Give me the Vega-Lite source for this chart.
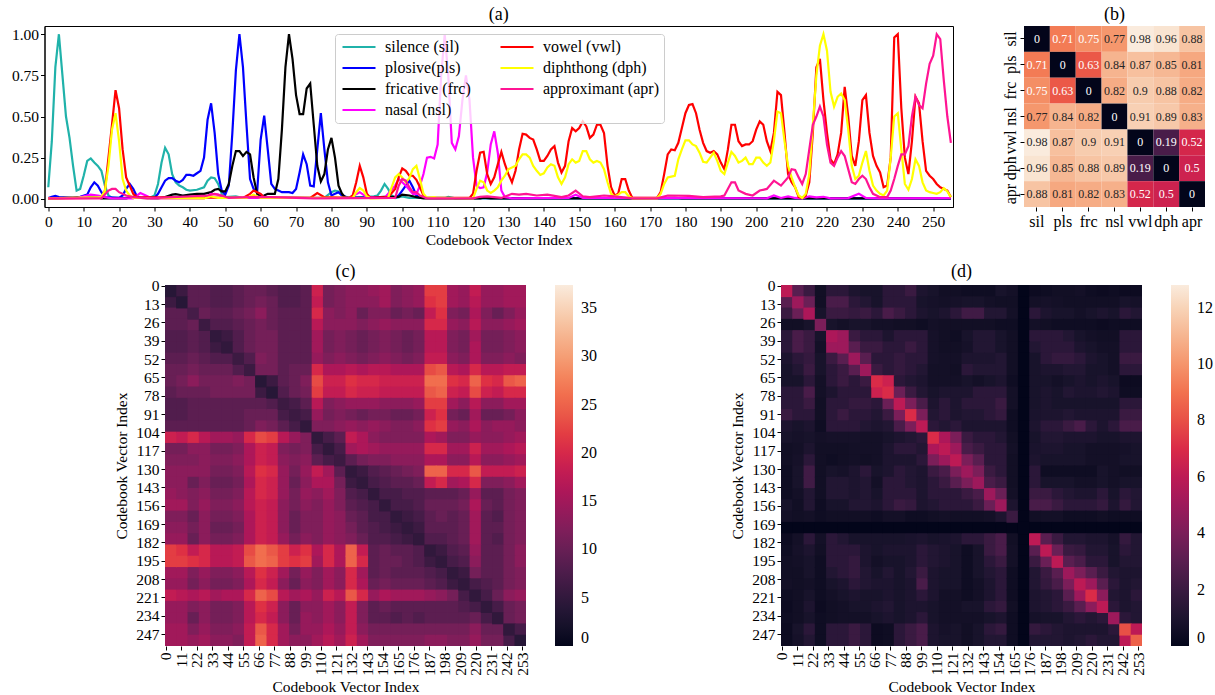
{"background":"white","padding":{"left":10.5,"top":5,"right":0,"bottom":0},"config":{"font":"Liberation Serif","view":{"stroke":"#000"},"title":{"fontSize":18,"fontWeight":"normal","color":"#000","offset":2,"font":"Liberation Serif"},"axis":{"labelFont":"Liberation Serif","titleFont":"Liberation Serif","labelFontSize":15.5,"titleFontSize":15.5,"titleFontWeight":"normal","labelColor":"#000","titleColor":"#000","tickColor":"#000","domainColor":"#000","grid":false,"tickSize":4},"legend":{"labelFont":"Liberation Serif","labelFontSize":16,"labelColor":"#000"}},"spacing":13,"vconcat":[{"spacing":47.5,"hconcat":[{"title":"(a)","width":908.5,"height":181,"data":{"values":[
{"x":0,"s":"sil","v":0.07},{"x":1,"s":"sil","v":0.35},{"x":2,"s":"sil","v":0.8},{"x":3,"s":"sil","v":1},{"x":4,"s":"sil","v":0.75},{"x":5,"s":"sil","v":0.5},{"x":6,"s":"sil","v":0.37},{"x":7,"s":"sil","v":0.2},{"x":8,"s":"sil","v":0.05},{"x":9,"s":"sil","v":0.06},{"x":10,"s":"sil","v":0.14},{"x":11,"s":"sil","v":0.23},{"x":12,"s":"sil","v":0.245},{"x":13,"s":"sil","v":0.22},{"x":14,"s":"sil","v":0.2},{"x":15,"s":"sil","v":0.17},{"x":16,"s":"sil","v":0.08},{"x":17,"s":"sil","v":0.02},{"x":18,"s":"sil","v":0.005},{"x":28,"s":"sil","v":0.005},{"x":29,"s":"sil","v":0.01},{"x":30,"s":"sil","v":0.02},{"x":31,"s":"sil","v":0.09},{"x":32,"s":"sil","v":0.22},{"x":33,"s":"sil","v":0.31},{"x":34,"s":"sil","v":0.27},{"x":35,"s":"sil","v":0.15},{"x":36,"s":"sil","v":0.1},{"x":37,"s":"sil","v":0.08},{"x":38,"s":"sil","v":0.07},{"x":39,"s":"sil","v":0.055},{"x":40,"s":"sil","v":0.05},{"x":42,"s":"sil","v":0.055},{"x":44,"s":"sil","v":0.07},{"x":45,"s":"sil","v":0.11},{"x":46,"s":"sil","v":0.13},{"x":47,"s":"sil","v":0.125},{"x":48,"s":"sil","v":0.09},{"x":49,"s":"sil","v":0.03},{"x":50,"s":"sil","v":0.01},{"x":53,"s":"sil","v":0.015},{"x":55,"s":"sil","v":0.005},{"x":62,"s":"sil","v":0.01},{"x":63,"s":"sil","v":0.005},{"x":78,"s":"sil","v":0.005},{"x":80,"s":"sil","v":0.04},{"x":81,"s":"sil","v":0.05},{"x":82,"s":"sil","v":0.045},{"x":83,"s":"sil","v":0.02},{"x":85,"s":"sil","v":0.005},{"x":92,"s":"sil","v":0.015},{"x":93,"s":"sil","v":0.02},{"x":94,"s":"sil","v":0.05},{"x":95,"s":"sil","v":0.09},{"x":96,"s":"sil","v":0.06},{"x":97,"s":"sil","v":0.02},{"x":98,"s":"sil","v":0.005},{"x":100,"s":"sil","v":0.015},{"x":102,"s":"sil","v":0.005},{"x":112,"s":"sil","v":0.005},{"x":113,"s":"sil","v":0.012},{"x":115,"s":"sil","v":0.003},{"x":255,"s":"sil","v":0.003},
{"x":0,"s":"pls","v":0.005},{"x":1,"s":"pls","v":0.012},{"x":2,"s":"pls","v":0.018},{"x":3,"s":"pls","v":0.01},{"x":7,"s":"pls","v":0.005},{"x":9,"s":"pls","v":0.012},{"x":11,"s":"pls","v":0.025},{"x":12,"s":"pls","v":0.07},{"x":13,"s":"pls","v":0.1},{"x":14,"s":"pls","v":0.08},{"x":15,"s":"pls","v":0.04},{"x":16,"s":"pls","v":0.01},{"x":20,"s":"pls","v":0.005},{"x":21,"s":"pls","v":0.02},{"x":22,"s":"pls","v":0.06},{"x":23,"s":"pls","v":0.09},{"x":24,"s":"pls","v":0.06},{"x":25,"s":"pls","v":0.015},{"x":26,"s":"pls","v":0.005},{"x":30,"s":"pls","v":0.005},{"x":31,"s":"pls","v":0.03},{"x":32,"s":"pls","v":0.07},{"x":33,"s":"pls","v":0.11},{"x":34,"s":"pls","v":0.125},{"x":35,"s":"pls","v":0.125},{"x":36,"s":"pls","v":0.11},{"x":37,"s":"pls","v":0.1},{"x":38,"s":"pls","v":0.115},{"x":39,"s":"pls","v":0.145},{"x":40,"s":"pls","v":0.145},{"x":41,"s":"pls","v":0.14},{"x":42,"s":"pls","v":0.155},{"x":43,"s":"pls","v":0.17},{"x":44,"s":"pls","v":0.25},{"x":45,"s":"pls","v":0.48},{"x":46,"s":"pls","v":0.58},{"x":47,"s":"pls","v":0.4},{"x":48,"s":"pls","v":0.15},{"x":49,"s":"pls","v":0.05},{"x":50,"s":"pls","v":0.025},{"x":51,"s":"pls","v":0.08},{"x":52,"s":"pls","v":0.4},{"x":53,"s":"pls","v":0.78},{"x":54,"s":"pls","v":1},{"x":55,"s":"pls","v":0.8},{"x":56,"s":"pls","v":0.45},{"x":57,"s":"pls","v":0.12},{"x":58,"s":"pls","v":0.06},{"x":59,"s":"pls","v":0.04},{"x":60,"s":"pls","v":0.36},{"x":61,"s":"pls","v":0.505},{"x":62,"s":"pls","v":0.3},{"x":63,"s":"pls","v":0.09},{"x":64,"s":"pls","v":0.06},{"x":65,"s":"pls","v":0.05},{"x":66,"s":"pls","v":0.04},{"x":68,"s":"pls","v":0.04},{"x":69,"s":"pls","v":0.035},{"x":70,"s":"pls","v":0.06},{"x":71,"s":"pls","v":0.16},{"x":72,"s":"pls","v":0.27},{"x":73,"s":"pls","v":0.21},{"x":74,"s":"pls","v":0.08},{"x":75,"s":"pls","v":0.075},{"x":76,"s":"pls","v":0.3},{"x":77,"s":"pls","v":0.52},{"x":78,"s":"pls","v":0.3},{"x":79,"s":"pls","v":0.1},{"x":80,"s":"pls","v":0.02},{"x":81,"s":"pls","v":0.03},{"x":82,"s":"pls","v":0.04},{"x":83,"s":"pls","v":0.02},{"x":85,"s":"pls","v":0.005},{"x":98,"s":"pls","v":0.005},{"x":99,"s":"pls","v":0.02},{"x":100,"s":"pls","v":0.05},{"x":101,"s":"pls","v":0.08},{"x":102,"s":"pls","v":0.11},{"x":103,"s":"pls","v":0.07},{"x":104,"s":"pls","v":0.02},{"x":105,"s":"pls","v":0.005},{"x":255,"s":"pls","v":0.002},
{"x":0,"s":"frc","v":0.002},{"x":10,"s":"frc","v":0.008},{"x":14,"s":"frc","v":0.008},{"x":15,"s":"frc","v":0.002},{"x":22,"s":"frc","v":0.002},{"x":24,"s":"frc","v":0.012},{"x":26,"s":"frc","v":0.005},{"x":31,"s":"frc","v":0.003},{"x":33,"s":"frc","v":0.01},{"x":35,"s":"frc","v":0.025},{"x":36,"s":"frc","v":0.028},{"x":38,"s":"frc","v":0.02},{"x":40,"s":"frc","v":0.025},{"x":42,"s":"frc","v":0.03},{"x":44,"s":"frc","v":0.03},{"x":46,"s":"frc","v":0.04},{"x":47,"s":"frc","v":0.055},{"x":48,"s":"frc","v":0.06},{"x":49,"s":"frc","v":0.045},{"x":50,"s":"frc","v":0.045},{"x":51,"s":"frc","v":0.09},{"x":52,"s":"frc","v":0.2},{"x":53,"s":"frc","v":0.29},{"x":54,"s":"frc","v":0.29},{"x":55,"s":"frc","v":0.26},{"x":56,"s":"frc","v":0.285},{"x":57,"s":"frc","v":0.27},{"x":58,"s":"frc","v":0.13},{"x":59,"s":"frc","v":0.03},{"x":60,"s":"frc","v":0.015},{"x":61,"s":"frc","v":0.02},{"x":62,"s":"frc","v":0.03},{"x":64,"s":"frc","v":0.03},{"x":65,"s":"frc","v":0.12},{"x":66,"s":"frc","v":0.42},{"x":67,"s":"frc","v":0.8},{"x":68,"s":"frc","v":1},{"x":69,"s":"frc","v":0.85},{"x":70,"s":"frc","v":0.63},{"x":71,"s":"frc","v":0.515},{"x":72,"s":"frc","v":0.515},{"x":73,"s":"frc","v":0.67},{"x":74,"s":"frc","v":0.7},{"x":75,"s":"frc","v":0.45},{"x":76,"s":"frc","v":0.2},{"x":77,"s":"frc","v":0.105},{"x":78,"s":"frc","v":0.15},{"x":79,"s":"frc","v":0.3},{"x":80,"s":"frc","v":0.37},{"x":81,"s":"frc","v":0.25},{"x":82,"s":"frc","v":0.08},{"x":83,"s":"frc","v":0.03},{"x":84,"s":"frc","v":0.005},{"x":90,"s":"frc","v":0.005},{"x":95,"s":"frc","v":0.012},{"x":99,"s":"frc","v":0.012},{"x":100,"s":"frc","v":0.025},{"x":102,"s":"frc","v":0.02},{"x":104,"s":"frc","v":0.01},{"x":106,"s":"frc","v":0.002},{"x":110,"s":"frc","v":0.004},{"x":122,"s":"frc","v":0.002},{"x":123,"s":"frc","v":0.007},{"x":125,"s":"frc","v":0.002},{"x":150,"s":"frc","v":0.003},{"x":165,"s":"frc","v":0.002},{"x":177,"s":"frc","v":0.006},{"x":179,"s":"frc","v":0.002},{"x":255,"s":"frc","v":0.002},
{"x":0,"s":"nsl","v":0.002},{"x":8,"s":"nsl","v":0.005},{"x":10,"s":"nsl","v":0.015},{"x":12,"s":"nsl","v":0.025},{"x":14,"s":"nsl","v":0.02},{"x":16,"s":"nsl","v":0.01},{"x":18,"s":"nsl","v":0.003},{"x":24,"s":"nsl","v":0.003},{"x":26,"s":"nsl","v":0.035},{"x":28,"s":"nsl","v":0.015},{"x":29,"s":"nsl","v":0.003},{"x":44,"s":"nsl","v":0.003},{"x":46,"s":"nsl","v":0.03},{"x":48,"s":"nsl","v":0.025},{"x":50,"s":"nsl","v":0.005},{"x":85,"s":"nsl","v":0.005},{"x":88,"s":"nsl","v":0.04},{"x":90,"s":"nsl","v":0.01},{"x":95,"s":"nsl","v":0.005},{"x":98,"s":"nsl","v":0.08},{"x":99,"s":"nsl","v":0.12},{"x":100,"s":"nsl","v":0.1},{"x":101,"s":"nsl","v":0.08},{"x":103,"s":"nsl","v":0.03},{"x":104,"s":"nsl","v":0.03},{"x":105,"s":"nsl","v":0.08},{"x":106,"s":"nsl","v":0.15},{"x":107,"s":"nsl","v":0.25},{"x":108,"s":"nsl","v":0.255},{"x":109,"s":"nsl","v":0.245},{"x":110,"s":"nsl","v":0.33},{"x":111,"s":"nsl","v":0.75},{"x":112,"s":"nsl","v":1},{"x":113,"s":"nsl","v":0.75},{"x":114,"s":"nsl","v":0.34},{"x":115,"s":"nsl","v":0.3},{"x":116,"s":"nsl","v":0.38},{"x":117,"s":"nsl","v":0.6},{"x":118,"s":"nsl","v":0.75},{"x":119,"s":"nsl","v":0.6},{"x":120,"s":"nsl","v":0.25},{"x":121,"s":"nsl","v":0.08},{"x":122,"s":"nsl","v":0.065},{"x":123,"s":"nsl","v":0.07},{"x":124,"s":"nsl","v":0.16},{"x":125,"s":"nsl","v":0.33},{"x":126,"s":"nsl","v":0.41},{"x":127,"s":"nsl","v":0.28},{"x":128,"s":"nsl","v":0.05},{"x":129,"s":"nsl","v":0.01},{"x":131,"s":"nsl","v":0.003},{"x":147,"s":"nsl","v":0.005},{"x":149,"s":"nsl","v":0.025},{"x":151,"s":"nsl","v":0.005},{"x":160,"s":"nsl","v":0.005},{"x":203,"s":"nsl","v":0.003},{"x":205,"s":"nsl","v":0.02},{"x":207,"s":"nsl","v":0.005},{"x":209,"s":"nsl","v":0.015},{"x":211,"s":"nsl","v":0.005},{"x":213,"s":"nsl","v":0.002},{"x":215,"s":"nsl","v":0.015},{"x":217,"s":"nsl","v":0.008},{"x":219,"s":"nsl","v":0.012},{"x":221,"s":"nsl","v":0.003},{"x":226,"s":"nsl","v":0.004},{"x":229,"s":"nsl","v":0.03},{"x":231,"s":"nsl","v":0.005},{"x":235,"s":"nsl","v":0.002},{"x":255,"s":"nsl","v":0.004},
{"x":0,"s":"vwl","v":0.002},{"x":15,"s":"vwl","v":0.005},{"x":16,"s":"vwl","v":0.05},{"x":17,"s":"vwl","v":0.25},{"x":18,"s":"vwl","v":0.45},{"x":19,"s":"vwl","v":0.66},{"x":20,"s":"vwl","v":0.55},{"x":21,"s":"vwl","v":0.3},{"x":22,"s":"vwl","v":0.13},{"x":23,"s":"vwl","v":0.08},{"x":24,"s":"vwl","v":0.03},{"x":25,"s":"vwl","v":0.01},{"x":55,"s":"vwl","v":0.005},{"x":57,"s":"vwl","v":0.03},{"x":58,"s":"vwl","v":0.05},{"x":60,"s":"vwl","v":0.03},{"x":61,"s":"vwl","v":0.008},{"x":74,"s":"vwl","v":0.005},{"x":76,"s":"vwl","v":0.035},{"x":78,"s":"vwl","v":0.01},{"x":85,"s":"vwl","v":0.005},{"x":86,"s":"vwl","v":0.02},{"x":87,"s":"vwl","v":0.1},{"x":88,"s":"vwl","v":0.2},{"x":89,"s":"vwl","v":0.13},{"x":90,"s":"vwl","v":0.03},{"x":91,"s":"vwl","v":0.005},{"x":96,"s":"vwl","v":0.01},{"x":98,"s":"vwl","v":0.06},{"x":99,"s":"vwl","v":0.13},{"x":100,"s":"vwl","v":0.185},{"x":101,"s":"vwl","v":0.17},{"x":102,"s":"vwl","v":0.14},{"x":103,"s":"vwl","v":0.14},{"x":104,"s":"vwl","v":0.115},{"x":105,"s":"vwl","v":0.07},{"x":106,"s":"vwl","v":0.02},{"x":107,"s":"vwl","v":0.005},{"x":119,"s":"vwl","v":0.005},{"x":120,"s":"vwl","v":0.03},{"x":121,"s":"vwl","v":0.17},{"x":122,"s":"vwl","v":0.28},{"x":123,"s":"vwl","v":0.285},{"x":124,"s":"vwl","v":0.15},{"x":125,"s":"vwl","v":0.09},{"x":126,"s":"vwl","v":0.13},{"x":127,"s":"vwl","v":0.21},{"x":128,"s":"vwl","v":0.285},{"x":129,"s":"vwl","v":0.21},{"x":130,"s":"vwl","v":0.15},{"x":131,"s":"vwl","v":0.1},{"x":132,"s":"vwl","v":0.17},{"x":133,"s":"vwl","v":0.3},{"x":134,"s":"vwl","v":0.395},{"x":135,"s":"vwl","v":0.39},{"x":136,"s":"vwl","v":0.37},{"x":137,"s":"vwl","v":0.36},{"x":138,"s":"vwl","v":0.3},{"x":139,"s":"vwl","v":0.23},{"x":140,"s":"vwl","v":0.23},{"x":141,"s":"vwl","v":0.26},{"x":142,"s":"vwl","v":0.3},{"x":143,"s":"vwl","v":0.32},{"x":144,"s":"vwl","v":0.22},{"x":145,"s":"vwl","v":0.16},{"x":146,"s":"vwl","v":0.2},{"x":147,"s":"vwl","v":0.35},{"x":148,"s":"vwl","v":0.43},{"x":149,"s":"vwl","v":0.41},{"x":150,"s":"vwl","v":0.43},{"x":151,"s":"vwl","v":0.47},{"x":152,"s":"vwl","v":0.44},{"x":153,"s":"vwl","v":0.37},{"x":154,"s":"vwl","v":0.39},{"x":155,"s":"vwl","v":0.45},{"x":156,"s":"vwl","v":0.45},{"x":157,"s":"vwl","v":0.4},{"x":158,"s":"vwl","v":0.2},{"x":159,"s":"vwl","v":0.07},{"x":160,"s":"vwl","v":0.02},{"x":161,"s":"vwl","v":0.03},{"x":162,"s":"vwl","v":0.12},{"x":163,"s":"vwl","v":0.12},{"x":164,"s":"vwl","v":0.05},{"x":165,"s":"vwl","v":0.005},{"x":172,"s":"vwl","v":0.005},{"x":173,"s":"vwl","v":0.04},{"x":174,"s":"vwl","v":0.15},{"x":175,"s":"vwl","v":0.27},{"x":176,"s":"vwl","v":0.3},{"x":177,"s":"vwl","v":0.295},{"x":178,"s":"vwl","v":0.34},{"x":179,"s":"vwl","v":0.43},{"x":180,"s":"vwl","v":0.52},{"x":181,"s":"vwl","v":0.57},{"x":182,"s":"vwl","v":0.575},{"x":183,"s":"vwl","v":0.52},{"x":184,"s":"vwl","v":0.42},{"x":185,"s":"vwl","v":0.34},{"x":186,"s":"vwl","v":0.29},{"x":187,"s":"vwl","v":0.28},{"x":188,"s":"vwl","v":0.29},{"x":189,"s":"vwl","v":0.27},{"x":190,"s":"vwl","v":0.22},{"x":191,"s":"vwl","v":0.18},{"x":192,"s":"vwl","v":0.3},{"x":193,"s":"vwl","v":0.45},{"x":194,"s":"vwl","v":0.45},{"x":195,"s":"vwl","v":0.35},{"x":196,"s":"vwl","v":0.32},{"x":197,"s":"vwl","v":0.33},{"x":198,"s":"vwl","v":0.33},{"x":199,"s":"vwl","v":0.35},{"x":200,"s":"vwl","v":0.42},{"x":201,"s":"vwl","v":0.47},{"x":202,"s":"vwl","v":0.45},{"x":203,"s":"vwl","v":0.35},{"x":204,"s":"vwl","v":0.29},{"x":205,"s":"vwl","v":0.4},{"x":206,"s":"vwl","v":0.65},{"x":207,"s":"vwl","v":0.63},{"x":208,"s":"vwl","v":0.4},{"x":209,"s":"vwl","v":0.15},{"x":210,"s":"vwl","v":0.1},{"x":211,"s":"vwl","v":0.07},{"x":212,"s":"vwl","v":0.01},{"x":213,"s":"vwl","v":0.005},{"x":214,"s":"vwl","v":0.02},{"x":215,"s":"vwl","v":0.1},{"x":216,"s":"vwl","v":0.4},{"x":217,"s":"vwl","v":0.8},{"x":218,"s":"vwl","v":0.85},{"x":219,"s":"vwl","v":0.6},{"x":220,"s":"vwl","v":0.4},{"x":221,"s":"vwl","v":0.24},{"x":222,"s":"vwl","v":0.21},{"x":223,"s":"vwl","v":0.27},{"x":224,"s":"vwl","v":0.4},{"x":225,"s":"vwl","v":0.68},{"x":226,"s":"vwl","v":0.5},{"x":227,"s":"vwl","v":0.26},{"x":228,"s":"vwl","v":0.2},{"x":229,"s":"vwl","v":0.35},{"x":230,"s":"vwl","v":0.6},{"x":231,"s":"vwl","v":0.63},{"x":232,"s":"vwl","v":0.4},{"x":233,"s":"vwl","v":0.26},{"x":234,"s":"vwl","v":0.2},{"x":235,"s":"vwl","v":0.16},{"x":236,"s":"vwl","v":0.07},{"x":237,"s":"vwl","v":0.08},{"x":238,"s":"vwl","v":0.25},{"x":239,"s":"vwl","v":0.98},{"x":240,"s":"vwl","v":1},{"x":241,"s":"vwl","v":0.55},{"x":242,"s":"vwl","v":0.25},{"x":243,"s":"vwl","v":0.15},{"x":244,"s":"vwl","v":0.35},{"x":245,"s":"vwl","v":0.62},{"x":246,"s":"vwl","v":0.58},{"x":247,"s":"vwl","v":0.35},{"x":248,"s":"vwl","v":0.17},{"x":249,"s":"vwl","v":0.14},{"x":250,"s":"vwl","v":0.12},{"x":251,"s":"vwl","v":0.09},{"x":252,"s":"vwl","v":0.07},{"x":253,"s":"vwl","v":0.06},{"x":254,"s":"vwl","v":0.05},{"x":255,"s":"vwl","v":0.01},
{"x":0,"s":"dph","v":0.002},{"x":15,"s":"dph","v":0.01},{"x":16,"s":"dph","v":0.05},{"x":17,"s":"dph","v":0.2},{"x":18,"s":"dph","v":0.42},{"x":19,"s":"dph","v":0.52},{"x":20,"s":"dph","v":0.35},{"x":21,"s":"dph","v":0.12},{"x":22,"s":"dph","v":0.05},{"x":23,"s":"dph","v":0.02},{"x":24,"s":"dph","v":0.005},{"x":44,"s":"dph","v":0.002},{"x":46,"s":"dph","v":0.015},{"x":48,"s":"dph","v":0.005},{"x":56,"s":"dph","v":0.005},{"x":58,"s":"dph","v":0.025},{"x":60,"s":"dph","v":0.005},{"x":86,"s":"dph","v":0.005},{"x":87,"s":"dph","v":0.04},{"x":88,"s":"dph","v":0.065},{"x":89,"s":"dph","v":0.05},{"x":90,"s":"dph","v":0.015},{"x":91,"s":"dph","v":0.003},{"x":96,"s":"dph","v":0.005},{"x":97,"s":"dph","v":0.07},{"x":98,"s":"dph","v":0.13},{"x":99,"s":"dph","v":0.15},{"x":100,"s":"dph","v":0.13},{"x":101,"s":"dph","v":0.1},{"x":102,"s":"dph","v":0.125},{"x":103,"s":"dph","v":0.18},{"x":104,"s":"dph","v":0.2},{"x":105,"s":"dph","v":0.12},{"x":106,"s":"dph","v":0.03},{"x":107,"s":"dph","v":0.005},{"x":109,"s":"dph","v":0.01},{"x":110,"s":"dph","v":0.005},{"x":120,"s":"dph","v":0.003},{"x":121,"s":"dph","v":0.06},{"x":122,"s":"dph","v":0.11},{"x":123,"s":"dph","v":0.1},{"x":124,"s":"dph","v":0.05},{"x":125,"s":"dph","v":0.035},{"x":126,"s":"dph","v":0.05},{"x":127,"s":"dph","v":0.07},{"x":128,"s":"dph","v":0.11},{"x":129,"s":"dph","v":0.14},{"x":130,"s":"dph","v":0.18},{"x":131,"s":"dph","v":0.19},{"x":132,"s":"dph","v":0.2},{"x":133,"s":"dph","v":0.24},{"x":134,"s":"dph","v":0.27},{"x":135,"s":"dph","v":0.27},{"x":136,"s":"dph","v":0.25},{"x":137,"s":"dph","v":0.2},{"x":138,"s":"dph","v":0.17},{"x":139,"s":"dph","v":0.145},{"x":140,"s":"dph","v":0.155},{"x":141,"s":"dph","v":0.19},{"x":142,"s":"dph","v":0.21},{"x":143,"s":"dph","v":0.2},{"x":144,"s":"dph","v":0.13},{"x":145,"s":"dph","v":0.09},{"x":146,"s":"dph","v":0.13},{"x":147,"s":"dph","v":0.21},{"x":148,"s":"dph","v":0.24},{"x":149,"s":"dph","v":0.22},{"x":150,"s":"dph","v":0.23},{"x":151,"s":"dph","v":0.29},{"x":152,"s":"dph","v":0.29},{"x":153,"s":"dph","v":0.24},{"x":154,"s":"dph","v":0.22},{"x":155,"s":"dph","v":0.23},{"x":156,"s":"dph","v":0.22},{"x":157,"s":"dph","v":0.18},{"x":158,"s":"dph","v":0.1},{"x":159,"s":"dph","v":0.03},{"x":160,"s":"dph","v":0.015},{"x":161,"s":"dph","v":0.025},{"x":162,"s":"dph","v":0.04},{"x":163,"s":"dph","v":0.04},{"x":164,"s":"dph","v":0.015},{"x":165,"s":"dph","v":0.003},{"x":172,"s":"dph","v":0.003},{"x":173,"s":"dph","v":0.03},{"x":174,"s":"dph","v":0.09},{"x":175,"s":"dph","v":0.13},{"x":176,"s":"dph","v":0.135},{"x":177,"s":"dph","v":0.14},{"x":178,"s":"dph","v":0.24},{"x":179,"s":"dph","v":0.3},{"x":180,"s":"dph","v":0.355},{"x":181,"s":"dph","v":0.355},{"x":182,"s":"dph","v":0.33},{"x":183,"s":"dph","v":0.32},{"x":184,"s":"dph","v":0.28},{"x":185,"s":"dph","v":0.225},{"x":186,"s":"dph","v":0.22},{"x":187,"s":"dph","v":0.25},{"x":188,"s":"dph","v":0.28},{"x":189,"s":"dph","v":0.23},{"x":190,"s":"dph","v":0.17},{"x":191,"s":"dph","v":0.15},{"x":192,"s":"dph","v":0.22},{"x":193,"s":"dph","v":0.285},{"x":194,"s":"dph","v":0.26},{"x":195,"s":"dph","v":0.22},{"x":196,"s":"dph","v":0.23},{"x":197,"s":"dph","v":0.25},{"x":198,"s":"dph","v":0.21},{"x":199,"s":"dph","v":0.21},{"x":200,"s":"dph","v":0.25},{"x":201,"s":"dph","v":0.25},{"x":202,"s":"dph","v":0.22},{"x":203,"s":"dph","v":0.2},{"x":204,"s":"dph","v":0.22},{"x":205,"s":"dph","v":0.35},{"x":206,"s":"dph","v":0.53},{"x":207,"s":"dph","v":0.52},{"x":208,"s":"dph","v":0.35},{"x":209,"s":"dph","v":0.2},{"x":210,"s":"dph","v":0.13},{"x":211,"s":"dph","v":0.07},{"x":212,"s":"dph","v":0.02},{"x":213,"s":"dph","v":0.005},{"x":214,"s":"dph","v":0.03},{"x":215,"s":"dph","v":0.15},{"x":216,"s":"dph","v":0.45},{"x":217,"s":"dph","v":0.75},{"x":218,"s":"dph","v":0.93},{"x":219,"s":"dph","v":1},{"x":220,"s":"dph","v":0.9},{"x":221,"s":"dph","v":0.65},{"x":222,"s":"dph","v":0.56},{"x":223,"s":"dph","v":0.62},{"x":224,"s":"dph","v":0.64},{"x":225,"s":"dph","v":0.6},{"x":226,"s":"dph","v":0.42},{"x":227,"s":"dph","v":0.2},{"x":228,"s":"dph","v":0.12},{"x":229,"s":"dph","v":0.14},{"x":230,"s":"dph","v":0.22},{"x":231,"s":"dph","v":0.29},{"x":232,"s":"dph","v":0.17},{"x":233,"s":"dph","v":0.08},{"x":234,"s":"dph","v":0.05},{"x":235,"s":"dph","v":0.03},{"x":236,"s":"dph","v":0.02},{"x":237,"s":"dph","v":0.05},{"x":238,"s":"dph","v":0.25},{"x":239,"s":"dph","v":0.5},{"x":240,"s":"dph","v":0.52},{"x":241,"s":"dph","v":0.3},{"x":242,"s":"dph","v":0.09},{"x":243,"s":"dph","v":0.055},{"x":244,"s":"dph","v":0.12},{"x":245,"s":"dph","v":0.24},{"x":246,"s":"dph","v":0.2},{"x":247,"s":"dph","v":0.1},{"x":248,"s":"dph","v":0.05},{"x":249,"s":"dph","v":0.04},{"x":250,"s":"dph","v":0.035},{"x":251,"s":"dph","v":0.03},{"x":252,"s":"dph","v":0.04},{"x":253,"s":"dph","v":0.065},{"x":254,"s":"dph","v":0.045},{"x":255,"s":"dph","v":0.01},
{"x":0,"s":"apr","v":0.002},{"x":15,"s":"apr","v":0.003},{"x":17,"s":"apr","v":0.05},{"x":18,"s":"apr","v":0.06},{"x":19,"s":"apr","v":0.06},{"x":20,"s":"apr","v":0.04},{"x":22,"s":"apr","v":0.02},{"x":24,"s":"apr","v":0.01},{"x":28,"s":"apr","v":0.003},{"x":45,"s":"apr","v":0.02},{"x":47,"s":"apr","v":0.03},{"x":49,"s":"apr","v":0.02},{"x":51,"s":"apr","v":0.005},{"x":60,"s":"apr","v":0.012},{"x":75,"s":"apr","v":0.003},{"x":98,"s":"apr","v":0.005},{"x":99,"s":"apr","v":0.08},{"x":100,"s":"apr","v":0.12},{"x":101,"s":"apr","v":0.11},{"x":102,"s":"apr","v":0.07},{"x":103,"s":"apr","v":0.04},{"x":104,"s":"apr","v":0.04},{"x":105,"s":"apr","v":0.02},{"x":107,"s":"apr","v":0.003},{"x":120,"s":"apr","v":0.003},{"x":122,"s":"apr","v":0.012},{"x":124,"s":"apr","v":0.015},{"x":128,"s":"apr","v":0.005},{"x":131,"s":"apr","v":0.03},{"x":133,"s":"apr","v":0.025},{"x":135,"s":"apr","v":0.03},{"x":138,"s":"apr","v":0.02},{"x":141,"s":"apr","v":0.025},{"x":145,"s":"apr","v":0.01},{"x":147,"s":"apr","v":0.02},{"x":149,"s":"apr","v":0.05},{"x":151,"s":"apr","v":0.015},{"x":153,"s":"apr","v":0.01},{"x":157,"s":"apr","v":0.02},{"x":160,"s":"apr","v":0.015},{"x":165,"s":"apr","v":0.003},{"x":172,"s":"apr","v":0.003},{"x":175,"s":"apr","v":0.02},{"x":181,"s":"apr","v":0.018},{"x":185,"s":"apr","v":0.01},{"x":190,"s":"apr","v":0.015},{"x":191,"s":"apr","v":0.02},{"x":193,"s":"apr","v":0.1},{"x":194,"s":"apr","v":0.1},{"x":195,"s":"apr","v":0.05},{"x":197,"s":"apr","v":0.03},{"x":199,"s":"apr","v":0.02},{"x":201,"s":"apr","v":0.05},{"x":203,"s":"apr","v":0.06},{"x":205,"s":"apr","v":0.11},{"x":207,"s":"apr","v":0.08},{"x":209,"s":"apr","v":0.13},{"x":210,"s":"apr","v":0.18},{"x":211,"s":"apr","v":0.175},{"x":212,"s":"apr","v":0.13},{"x":213,"s":"apr","v":0.09},{"x":214,"s":"apr","v":0.15},{"x":215,"s":"apr","v":0.3},{"x":216,"s":"apr","v":0.45},{"x":217,"s":"apr","v":0.5},{"x":218,"s":"apr","v":0.56},{"x":219,"s":"apr","v":0.5},{"x":220,"s":"apr","v":0.33},{"x":221,"s":"apr","v":0.22},{"x":222,"s":"apr","v":0.2},{"x":223,"s":"apr","v":0.25},{"x":224,"s":"apr","v":0.29},{"x":225,"s":"apr","v":0.26},{"x":226,"s":"apr","v":0.18},{"x":227,"s":"apr","v":0.1},{"x":228,"s":"apr","v":0.09},{"x":229,"s":"apr","v":0.12},{"x":230,"s":"apr","v":0.14},{"x":231,"s":"apr","v":0.12},{"x":232,"s":"apr","v":0.07},{"x":233,"s":"apr","v":0.03},{"x":235,"s":"apr","v":0.01},{"x":237,"s":"apr","v":0.01},{"x":238,"s":"apr","v":0.05},{"x":239,"s":"apr","v":0.12},{"x":240,"s":"apr","v":0.2},{"x":241,"s":"apr","v":0.27},{"x":242,"s":"apr","v":0.27},{"x":243,"s":"apr","v":0.32},{"x":244,"s":"apr","v":0.5},{"x":245,"s":"apr","v":0.62},{"x":246,"s":"apr","v":0.57},{"x":247,"s":"apr","v":0.55},{"x":248,"s":"apr","v":0.7},{"x":249,"s":"apr","v":0.82},{"x":250,"s":"apr","v":0.87},{"x":251,"s":"apr","v":1},{"x":252,"s":"apr","v":0.97},{"x":253,"s":"apr","v":0.72},{"x":254,"s":"apr","v":0.5},{"x":255,"s":"apr","v":0.34}
]},"mark":{"type":"line","strokeWidth":2.2,"clip":true},"encoding":{"x":{"field":"x","type":"quantitative","scale":{"domain":[-1.07,255.6],"nice":false},"title":"Codebook Vector Index","axis":{"values":[0,10,20,30,40,50,60,70,80,90,100,110,120,130,140,150,160,170,180,190,200,210,220,230,240,250],"labelAngle":0,"labelPadding":3,"titlePadding":3}},"y":{"field":"v","type":"quantitative","scale":{"domain":[-0.05,1.05],"nice":false},"title":null,"axis":{"values":[0,0.25,0.5,0.75,1],"format":".2f"}},"color":{"field":"s","type":"nominal","scale":{"domain":["sil","pls","frc","nsl","vwl","dph","apr"],"range":["#20b2aa","#0000ff","#000000","#ff00ff","#ff0000","#ffff00","#ff1493"]},"legend":{"title":null,"orient":"none","legendX":290.5,"legendY":8,"columns":2,"symbolType":"M-1,0H5","symbolSize":121,"symbolStrokeWidth":2.2,"labelOffset":29,"rowPadding":5,"columnPadding":25,"padding":5,"fillColor":"rgba(255,255,255,0.8)","strokeColor":"#ccc","cornerRadius":3,"labelExpr":"{'sil':'silence (sil)','vwl':'vowel (vwl)','pls':'plosive(pls)','dph':'diphthong (dph)','frc':'fricative (frc)','apr':'approximant (apr)','nsl':'nasal (nsl)'}[datum.label]"}}}},{"title":"(b)","width":181,"height":181,"view":{"stroke":null},"data":{"values":[
{"r":"sil","c":"sil","v":0},{"r":"sil","c":"pls","v":0.71},{"r":"sil","c":"frc","v":0.75},{"r":"sil","c":"nsl","v":0.77},{"r":"sil","c":"vwl","v":0.98},{"r":"sil","c":"dph","v":0.96},{"r":"sil","c":"apr","v":0.88},
{"r":"pls","c":"sil","v":0.71},{"r":"pls","c":"pls","v":0},{"r":"pls","c":"frc","v":0.63},{"r":"pls","c":"nsl","v":0.84},{"r":"pls","c":"vwl","v":0.87},{"r":"pls","c":"dph","v":0.85},{"r":"pls","c":"apr","v":0.81},
{"r":"frc","c":"sil","v":0.75},{"r":"frc","c":"pls","v":0.63},{"r":"frc","c":"frc","v":0},{"r":"frc","c":"nsl","v":0.82},{"r":"frc","c":"vwl","v":0.9},{"r":"frc","c":"dph","v":0.88},{"r":"frc","c":"apr","v":0.82},
{"r":"nsl","c":"sil","v":0.77},{"r":"nsl","c":"pls","v":0.84},{"r":"nsl","c":"frc","v":0.82},{"r":"nsl","c":"nsl","v":0},{"r":"nsl","c":"vwl","v":0.91},{"r":"nsl","c":"dph","v":0.89},{"r":"nsl","c":"apr","v":0.83},
{"r":"vwl","c":"sil","v":0.98},{"r":"vwl","c":"pls","v":0.87},{"r":"vwl","c":"frc","v":0.9},{"r":"vwl","c":"nsl","v":0.91},{"r":"vwl","c":"vwl","v":0},{"r":"vwl","c":"dph","v":0.19},{"r":"vwl","c":"apr","v":0.52},
{"r":"dph","c":"sil","v":0.96},{"r":"dph","c":"pls","v":0.85},{"r":"dph","c":"frc","v":0.88},{"r":"dph","c":"nsl","v":0.89},{"r":"dph","c":"vwl","v":0.19},{"r":"dph","c":"dph","v":0},{"r":"dph","c":"apr","v":0.5},
{"r":"apr","c":"sil","v":0.88},{"r":"apr","c":"pls","v":0.81},{"r":"apr","c":"frc","v":0.82},{"r":"apr","c":"nsl","v":0.83},{"r":"apr","c":"vwl","v":0.52},{"r":"apr","c":"dph","v":0.5},{"r":"apr","c":"apr","v":0}
]},"layer":[{"mark":"rect","encoding":{"color":{"field":"v","type":"quantitative","scale":{"domain":[0,0.14,0.28,0.42,0.56,0.7,0.84,0.98],"range":["#03051a","#35193e","#701f57","#ad1759","#e13342","#f37651","#f6b48f","#faebdd"]},"legend":null}}},{"mark":{"type":"text","fontSize":12},"encoding":{"text":{"field":"v"},"color":{"condition":{"test":"datum.v<0.76","value":"#fff"},"value":"#262626"}}}],"encoding":{"x":{"field":"c","type":"nominal","scale":{"domain":["sil","pls","frc","nsl","vwl","dph","apr"]},"title":null,"axis":{"labelAngle":0,"labelFontSize":16,"domain":false}},"y":{"field":"r","type":"nominal","scale":{"domain":["sil","pls","frc","nsl","vwl","dph","apr"]},"title":null,"axis":{"labelAngle":-90,"labelFontSize":16,"labelAlign":"center","labelBaseline":"bottom","domain":false}}}}],"resolve":{"scale":{"color":"independent"}}},{"spacing":65.5,"hconcat":[{"width":1,"height":10,"view":{"stroke":null},"data":{"values":[{"a":0}]},"mark":{"type":"point","opacity":0}},{"spacing":133,"hconcat":[{"title":{"text":"(c)","offset":-2},"width":361,"height":361,"view":{"stroke":null},"data":{"values":[
{"a":0,"b":0,"v":4},{"a":0,"b":8,"v":6},{"a":0,"b":16,"v":9},{"a":0,"b":24,"v":9},{"a":0,"b":32,"v":8},{"a":0,"b":40,"v":8},{"a":0,"b":48,"v":9},{"a":0,"b":56,"v":10},{"a":0,"b":64,"v":10},{"a":0,"b":72,"v":9},{"a":0,"b":80,"v":8},{"a":0,"b":88,"v":8},{"a":0,"b":96,"v":9},{"a":0,"b":104,"v":19},{"a":0,"b":112,"v":11},{"a":0,"b":120,"v":12},{"a":0,"b":128,"v":13},{"a":0,"b":136,"v":13},{"a":0,"b":144,"v":14},{"a":0,"b":152,"v":15},{"a":0,"b":160,"v":12},{"a":0,"b":168,"v":13},{"a":0,"b":176,"v":14},{"a":0,"b":184,"v":22},{"a":0,"b":192,"v":22},{"a":0,"b":200,"v":15},{"a":0,"b":208,"v":14},{"a":0,"b":216,"v":18},{"a":0,"b":224,"v":14},{"a":0,"b":232,"v":14},{"a":0,"b":240,"v":15},{"a":0,"b":248,"v":15},
{"a":8,"b":8,"v":4},{"a":8,"b":16,"v":9},{"a":8,"b":24,"v":9},{"a":8,"b":32,"v":8},{"a":8,"b":40,"v":8},{"a":8,"b":48,"v":9},{"a":8,"b":56,"v":10},{"a":8,"b":64,"v":11},{"a":8,"b":72,"v":10},{"a":8,"b":80,"v":8},{"a":8,"b":88,"v":8},{"a":8,"b":96,"v":9},{"a":8,"b":104,"v":18},{"a":8,"b":112,"v":11},{"a":8,"b":120,"v":12},{"a":8,"b":128,"v":13},{"a":8,"b":136,"v":13},{"a":8,"b":144,"v":13},{"a":8,"b":152,"v":15},{"a":8,"b":160,"v":12},{"a":8,"b":168,"v":13},{"a":8,"b":176,"v":14},{"a":8,"b":184,"v":21},{"a":8,"b":192,"v":22},{"a":8,"b":200,"v":15},{"a":8,"b":208,"v":14},{"a":8,"b":216,"v":17},{"a":8,"b":224,"v":14},{"a":8,"b":232,"v":14},{"a":8,"b":240,"v":15},{"a":8,"b":248,"v":15},
{"a":16,"b":16,"v":7},{"a":16,"b":24,"v":10},{"a":16,"b":32,"v":9},{"a":16,"b":40,"v":9},{"a":16,"b":48,"v":10},{"a":16,"b":56,"v":11},{"a":16,"b":64,"v":13},{"a":16,"b":72,"v":10},{"a":16,"b":80,"v":9},{"a":16,"b":88,"v":9},{"a":16,"b":96,"v":9},{"a":16,"b":104,"v":20},{"a":16,"b":112,"v":13},{"a":16,"b":120,"v":12},{"a":16,"b":128,"v":13},{"a":16,"b":136,"v":10},{"a":16,"b":144,"v":12},{"a":16,"b":152,"v":12},{"a":16,"b":160,"v":10},{"a":16,"b":168,"v":11},{"a":16,"b":176,"v":10},{"a":16,"b":184,"v":18},{"a":16,"b":192,"v":21},{"a":16,"b":200,"v":12},{"a":16,"b":208,"v":11},{"a":16,"b":216,"v":16},{"a":16,"b":224,"v":12},{"a":16,"b":232,"v":10},{"a":16,"b":240,"v":12},{"a":16,"b":248,"v":14},
{"a":24,"b":24,"v":6},{"a":24,"b":32,"v":8},{"a":24,"b":40,"v":8},{"a":24,"b":48,"v":9},{"a":24,"b":56,"v":10},{"a":24,"b":64,"v":11},{"a":24,"b":72,"v":10},{"a":24,"b":80,"v":9},{"a":24,"b":88,"v":9},{"a":24,"b":96,"v":9},{"a":24,"b":104,"v":17},{"a":24,"b":112,"v":13},{"a":24,"b":120,"v":13},{"a":24,"b":128,"v":13},{"a":24,"b":136,"v":12},{"a":24,"b":144,"v":13},{"a":24,"b":152,"v":14},{"a":24,"b":160,"v":13},{"a":24,"b":168,"v":13},{"a":24,"b":176,"v":13},{"a":24,"b":184,"v":20},{"a":24,"b":192,"v":20},{"a":24,"b":200,"v":14},{"a":24,"b":208,"v":13},{"a":24,"b":216,"v":17},{"a":24,"b":224,"v":13},{"a":24,"b":232,"v":13},{"a":24,"b":240,"v":14},{"a":24,"b":248,"v":15},
{"a":32,"b":32,"v":5},{"a":32,"b":40,"v":6},{"a":32,"b":48,"v":8},{"a":32,"b":56,"v":10},{"a":32,"b":64,"v":11},{"a":32,"b":72,"v":11},{"a":32,"b":80,"v":9},{"a":32,"b":88,"v":9},{"a":32,"b":96,"v":9},{"a":32,"b":104,"v":15},{"a":32,"b":112,"v":11},{"a":32,"b":120,"v":12},{"a":32,"b":128,"v":11},{"a":32,"b":136,"v":10},{"a":32,"b":144,"v":11},{"a":32,"b":152,"v":12},{"a":32,"b":160,"v":11},{"a":32,"b":168,"v":10},{"a":32,"b":176,"v":11},{"a":32,"b":184,"v":17},{"a":32,"b":192,"v":17},{"a":32,"b":200,"v":12},{"a":32,"b":208,"v":11},{"a":32,"b":216,"v":15},{"a":32,"b":224,"v":11},{"a":32,"b":232,"v":11},{"a":32,"b":240,"v":12},{"a":32,"b":248,"v":13},
{"a":40,"b":40,"v":5},{"a":40,"b":48,"v":8},{"a":40,"b":56,"v":10},{"a":40,"b":64,"v":11},{"a":40,"b":72,"v":11},{"a":40,"b":80,"v":9},{"a":40,"b":88,"v":9},{"a":40,"b":96,"v":9},{"a":40,"b":104,"v":15},{"a":40,"b":112,"v":11},{"a":40,"b":120,"v":12},{"a":40,"b":128,"v":11},{"a":40,"b":136,"v":10},{"a":40,"b":144,"v":11},{"a":40,"b":152,"v":12},{"a":40,"b":160,"v":11},{"a":40,"b":168,"v":10},{"a":40,"b":176,"v":11},{"a":40,"b":184,"v":17},{"a":40,"b":192,"v":17},{"a":40,"b":200,"v":12},{"a":40,"b":208,"v":11},{"a":40,"b":216,"v":16},{"a":40,"b":224,"v":11},{"a":40,"b":232,"v":11},{"a":40,"b":240,"v":12},{"a":40,"b":248,"v":13},
{"a":48,"b":48,"v":6},{"a":48,"b":56,"v":8},{"a":48,"b":64,"v":12},{"a":48,"b":72,"v":11},{"a":48,"b":80,"v":9},{"a":48,"b":88,"v":9},{"a":48,"b":96,"v":9},{"a":48,"b":104,"v":14},{"a":48,"b":112,"v":12},{"a":48,"b":120,"v":13},{"a":48,"b":128,"v":12},{"a":48,"b":136,"v":11},{"a":48,"b":144,"v":12},{"a":48,"b":152,"v":13},{"a":48,"b":160,"v":12},{"a":48,"b":168,"v":11},{"a":48,"b":176,"v":12},{"a":48,"b":184,"v":18},{"a":48,"b":192,"v":18},{"a":48,"b":200,"v":13},{"a":48,"b":208,"v":12},{"a":48,"b":216,"v":16},{"a":48,"b":224,"v":12},{"a":48,"b":232,"v":12},{"a":48,"b":240,"v":13},{"a":48,"b":248,"v":12},
{"a":56,"b":56,"v":6},{"a":56,"b":64,"v":11},{"a":56,"b":72,"v":11},{"a":56,"b":80,"v":9},{"a":56,"b":88,"v":10},{"a":56,"b":96,"v":10},{"a":56,"b":104,"v":20},{"a":56,"b":112,"v":16},{"a":56,"b":120,"v":16},{"a":56,"b":128,"v":17},{"a":56,"b":136,"v":16},{"a":56,"b":144,"v":17},{"a":56,"b":152,"v":17},{"a":56,"b":160,"v":16},{"a":56,"b":168,"v":16},{"a":56,"b":176,"v":16},{"a":56,"b":184,"v":23},{"a":56,"b":192,"v":24},{"a":56,"b":200,"v":17},{"a":56,"b":208,"v":16},{"a":56,"b":216,"v":20},{"a":56,"b":224,"v":17},{"a":56,"b":232,"v":17},{"a":56,"b":240,"v":18},{"a":56,"b":248,"v":18},
{"a":64,"b":64,"v":4},{"a":64,"b":72,"v":6},{"a":64,"b":80,"v":9},{"a":64,"b":88,"v":10},{"a":64,"b":96,"v":12},{"a":64,"b":104,"v":23},{"a":64,"b":112,"v":19},{"a":64,"b":120,"v":19},{"a":64,"b":128,"v":21},{"a":64,"b":136,"v":20},{"a":64,"b":144,"v":20},{"a":64,"b":152,"v":19},{"a":64,"b":160,"v":19},{"a":64,"b":168,"v":19},{"a":64,"b":176,"v":19},{"a":64,"b":184,"v":26},{"a":64,"b":192,"v":26},{"a":64,"b":200,"v":21},{"a":64,"b":208,"v":20},{"a":64,"b":216,"v":25},{"a":64,"b":224,"v":21},{"a":64,"b":232,"v":20},{"a":64,"b":240,"v":24},{"a":64,"b":248,"v":25},
{"a":72,"b":72,"v":4},{"a":72,"b":80,"v":8},{"a":72,"b":88,"v":10},{"a":72,"b":96,"v":11},{"a":72,"b":104,"v":22},{"a":72,"b":112,"v":18},{"a":72,"b":120,"v":18},{"a":72,"b":128,"v":20},{"a":72,"b":136,"v":19},{"a":72,"b":144,"v":19},{"a":72,"b":152,"v":18},{"a":72,"b":160,"v":18},{"a":72,"b":168,"v":18},{"a":72,"b":176,"v":18},{"a":72,"b":184,"v":24},{"a":72,"b":192,"v":25},{"a":72,"b":200,"v":19},{"a":72,"b":208,"v":18},{"a":72,"b":216,"v":23},{"a":72,"b":224,"v":19},{"a":72,"b":232,"v":18},{"a":72,"b":240,"v":20},{"a":72,"b":248,"v":20},
{"a":80,"b":80,"v":6},{"a":80,"b":88,"v":7},{"a":80,"b":96,"v":9},{"a":80,"b":104,"v":17},{"a":80,"b":112,"v":12},{"a":80,"b":120,"v":13},{"a":80,"b":128,"v":14},{"a":80,"b":136,"v":14},{"a":80,"b":144,"v":14},{"a":80,"b":152,"v":13},{"a":80,"b":160,"v":13},{"a":80,"b":168,"v":13},{"a":80,"b":176,"v":14},{"a":80,"b":184,"v":22},{"a":80,"b":192,"v":22},{"a":80,"b":200,"v":15},{"a":80,"b":208,"v":13},{"a":80,"b":216,"v":17},{"a":80,"b":224,"v":13},{"a":80,"b":232,"v":13},{"a":80,"b":240,"v":15},{"a":80,"b":248,"v":15},
{"a":88,"b":88,"v":6},{"a":88,"b":96,"v":7},{"a":88,"b":104,"v":14},{"a":88,"b":112,"v":11},{"a":88,"b":120,"v":12},{"a":88,"b":128,"v":11},{"a":88,"b":136,"v":10},{"a":88,"b":144,"v":11},{"a":88,"b":152,"v":11},{"a":88,"b":160,"v":10},{"a":88,"b":168,"v":10},{"a":88,"b":176,"v":11},{"a":88,"b":184,"v":19},{"a":88,"b":192,"v":21},{"a":88,"b":200,"v":11},{"a":88,"b":208,"v":10},{"a":88,"b":216,"v":15},{"a":88,"b":224,"v":10},{"a":88,"b":232,"v":10},{"a":88,"b":240,"v":11},{"a":88,"b":248,"v":13},
{"a":96,"b":96,"v":5},{"a":96,"b":104,"v":12},{"a":96,"b":112,"v":12},{"a":96,"b":120,"v":13},{"a":96,"b":128,"v":14},{"a":96,"b":136,"v":13},{"a":96,"b":144,"v":14},{"a":96,"b":152,"v":13},{"a":96,"b":160,"v":12},{"a":96,"b":168,"v":12},{"a":96,"b":176,"v":13},{"a":96,"b":184,"v":21},{"a":96,"b":192,"v":22},{"a":96,"b":200,"v":14},{"a":96,"b":208,"v":13},{"a":96,"b":216,"v":16},{"a":96,"b":224,"v":13},{"a":96,"b":232,"v":14},{"a":96,"b":240,"v":14},{"a":96,"b":248,"v":13},
{"a":104,"b":104,"v":5},{"a":104,"b":112,"v":7},{"a":104,"b":120,"v":9},{"a":104,"b":128,"v":18},{"a":104,"b":136,"v":16},{"a":104,"b":144,"v":13},{"a":104,"b":152,"v":12},{"a":104,"b":160,"v":12},{"a":104,"b":168,"v":12},{"a":104,"b":176,"v":12},{"a":104,"b":184,"v":16},{"a":104,"b":192,"v":15},{"a":104,"b":200,"v":12},{"a":104,"b":208,"v":12},{"a":104,"b":216,"v":14},{"a":104,"b":224,"v":13},{"a":104,"b":232,"v":13},{"a":104,"b":240,"v":14},{"a":104,"b":248,"v":15},
{"a":112,"b":112,"v":5},{"a":112,"b":120,"v":7},{"a":112,"b":128,"v":15},{"a":112,"b":136,"v":16},{"a":112,"b":144,"v":15},{"a":112,"b":152,"v":14},{"a":112,"b":160,"v":14},{"a":112,"b":168,"v":14},{"a":112,"b":176,"v":14},{"a":112,"b":184,"v":20},{"a":112,"b":192,"v":20},{"a":112,"b":200,"v":15},{"a":112,"b":208,"v":15},{"a":112,"b":216,"v":19},{"a":112,"b":224,"v":15},{"a":112,"b":232,"v":15},{"a":112,"b":240,"v":16},{"a":112,"b":248,"v":17},
{"a":120,"b":120,"v":6},{"a":120,"b":128,"v":9},{"a":120,"b":136,"v":11},{"a":120,"b":144,"v":12},{"a":120,"b":152,"v":12},{"a":120,"b":160,"v":13},{"a":120,"b":168,"v":13},{"a":120,"b":176,"v":13},{"a":120,"b":184,"v":16},{"a":120,"b":192,"v":16},{"a":120,"b":200,"v":13},{"a":120,"b":208,"v":13},{"a":120,"b":216,"v":17},{"a":120,"b":224,"v":13},{"a":120,"b":232,"v":13},{"a":120,"b":240,"v":14},{"a":120,"b":248,"v":15},
{"a":128,"b":128,"v":5},{"a":128,"b":136,"v":6},{"a":128,"b":144,"v":8},{"a":128,"b":152,"v":9},{"a":128,"b":160,"v":10},{"a":128,"b":168,"v":11},{"a":128,"b":176,"v":12},{"a":128,"b":184,"v":25},{"a":128,"b":192,"v":25},{"a":128,"b":200,"v":20},{"a":128,"b":208,"v":20},{"a":128,"b":216,"v":24},{"a":128,"b":224,"v":18},{"a":128,"b":232,"v":18},{"a":128,"b":240,"v":18},{"a":128,"b":248,"v":19},
{"a":136,"b":136,"v":5},{"a":136,"b":144,"v":7},{"a":136,"b":152,"v":8},{"a":136,"b":160,"v":9},{"a":136,"b":168,"v":9},{"a":136,"b":176,"v":10},{"a":136,"b":184,"v":18},{"a":136,"b":192,"v":20},{"a":136,"b":200,"v":15},{"a":136,"b":208,"v":16},{"a":136,"b":216,"v":20},{"a":136,"b":224,"v":12},{"a":136,"b":232,"v":12},{"a":136,"b":240,"v":13},{"a":136,"b":248,"v":15},
{"a":144,"b":144,"v":5},{"a":144,"b":152,"v":7},{"a":144,"b":160,"v":7},{"a":144,"b":168,"v":8},{"a":144,"b":176,"v":8},{"a":144,"b":184,"v":9},{"a":144,"b":192,"v":9},{"a":144,"b":200,"v":9},{"a":144,"b":208,"v":10},{"a":144,"b":216,"v":14},{"a":144,"b":224,"v":9},{"a":144,"b":232,"v":9},{"a":144,"b":240,"v":11},{"a":144,"b":248,"v":12},
{"a":152,"b":152,"v":5},{"a":152,"b":160,"v":7},{"a":152,"b":168,"v":7},{"a":152,"b":176,"v":8},{"a":152,"b":184,"v":10},{"a":152,"b":192,"v":10},{"a":152,"b":200,"v":10},{"a":152,"b":208,"v":11},{"a":152,"b":216,"v":16},{"a":152,"b":224,"v":10},{"a":152,"b":232,"v":9},{"a":152,"b":240,"v":11},{"a":152,"b":248,"v":12},
{"a":160,"b":160,"v":5},{"a":160,"b":168,"v":6},{"a":160,"b":176,"v":7},{"a":160,"b":184,"v":9},{"a":160,"b":192,"v":10},{"a":160,"b":200,"v":9},{"a":160,"b":208,"v":10},{"a":160,"b":216,"v":15},{"a":160,"b":224,"v":9},{"a":160,"b":232,"v":8},{"a":160,"b":240,"v":11},{"a":160,"b":248,"v":12},
{"a":168,"b":168,"v":5},{"a":168,"b":176,"v":6},{"a":168,"b":184,"v":9},{"a":168,"b":192,"v":9},{"a":168,"b":200,"v":9},{"a":168,"b":208,"v":10},{"a":168,"b":216,"v":15},{"a":168,"b":224,"v":9},{"a":168,"b":232,"v":9},{"a":168,"b":240,"v":11},{"a":168,"b":248,"v":12},
{"a":176,"b":176,"v":5},{"a":176,"b":184,"v":8},{"a":176,"b":192,"v":8},{"a":176,"b":200,"v":9},{"a":176,"b":208,"v":10},{"a":176,"b":216,"v":15},{"a":176,"b":224,"v":9},{"a":176,"b":232,"v":8},{"a":176,"b":240,"v":11},{"a":176,"b":248,"v":12},
{"a":184,"b":184,"v":5},{"a":184,"b":192,"v":6},{"a":184,"b":200,"v":8},{"a":184,"b":208,"v":9},{"a":184,"b":216,"v":14},{"a":184,"b":224,"v":9},{"a":184,"b":232,"v":9},{"a":184,"b":240,"v":11},{"a":184,"b":248,"v":13},
{"a":192,"b":192,"v":5},{"a":192,"b":200,"v":7},{"a":192,"b":208,"v":8},{"a":192,"b":216,"v":13},{"a":192,"b":224,"v":9},{"a":192,"b":232,"v":9},{"a":192,"b":240,"v":11},{"a":192,"b":248,"v":13},
{"a":200,"b":200,"v":5},{"a":200,"b":208,"v":6},{"a":200,"b":216,"v":11},{"a":200,"b":224,"v":9},{"a":200,"b":232,"v":9},{"a":200,"b":240,"v":11},{"a":200,"b":248,"v":12},
{"a":208,"b":208,"v":5},{"a":208,"b":216,"v":7},{"a":208,"b":224,"v":8},{"a":208,"b":232,"v":9},{"a":208,"b":240,"v":11},{"a":208,"b":248,"v":12},
{"a":216,"b":216,"v":5},{"a":216,"b":224,"v":7},{"a":216,"b":232,"v":10},{"a":216,"b":240,"v":13},{"a":216,"b":248,"v":14},
{"a":224,"b":224,"v":5},{"a":224,"b":232,"v":7},{"a":224,"b":240,"v":10},{"a":224,"b":248,"v":11},
{"a":232,"b":232,"v":5},{"a":232,"b":240,"v":10},{"a":232,"b":248,"v":11},
{"a":240,"b":240,"v":5},{"a":240,"b":248,"v":7},
{"a":248,"b":248,"v":4}
]},"transform":[{"calculate":"datum.a+8.6","as":"a2"},{"calculate":"datum.b+8.6","as":"b2"}],"layer":[{"mark":{"type":"rect","clip":true},"encoding":{"x":{"field":"a","type":"quantitative","scale":{"domain":[0,256],"nice":false},"title":"Codebook Vector Index","axis":{"values":[0.5,11.5,22.5,33.5,44.5,55.5,66.5,77.5,88.5,99.5,110.5,121.5,132.5,143.5,154.5,165.5,176.5,187.5,198.5,209.5,220.5,231.5,242.5,253.5],"labelExpr":"floor(datum.value)","labelAngle":-90,"domain":false,"labelBaseline":"middle","labelAlign":"right","titlePadding":4}},"x2":{"field":"a2"},"y":{"field":"b","type":"quantitative","scale":{"domain":[0,256],"nice":false,"reverse":true},"title":"Codebook Vector Index","axis":{"values":[0.5,13.5,26.5,39.5,52.5,65.5,78.5,91.5,104.5,117.5,130.5,143.5,156.5,169.5,182.5,195.5,208.5,221.5,234.5,247.5],"labelExpr":"floor(datum.value)","domain":false,"titlePadding":6}},"y2":{"field":"b2"},"color":{"field":"v","type":"quantitative","scale":{"domain":[0,5.34,10.69,16.03,21.37,26.71,32.06,37.4],"range":["#03051a","#35193e","#701f57","#ad1759","#e13342","#f37651","#f6b48f","#faebdd"]},"legend":{"title":null,"orient":"right","offset":29,"gradientLength":361,"gradientThickness":18,"values":[0,5,10,15,20,25,30,35],"labelOffset":8}}}},{"mark":{"type":"rect","clip":true},"encoding":{"x":{"field":"b","type":"quantitative","title":"Codebook Vector Index","axis":{"values":[0.5,11.5,22.5,33.5,44.5,55.5,66.5,77.5,88.5,99.5,110.5,121.5,132.5,143.5,154.5,165.5,176.5,187.5,198.5,209.5,220.5,231.5,242.5,253.5],"labelExpr":"floor(datum.value)","labelAngle":-90,"domain":false,"labelBaseline":"middle","labelAlign":"right","titlePadding":4}},"x2":{"field":"b2"},"y":{"field":"a","type":"quantitative","title":"Codebook Vector Index","axis":{"values":[0.5,13.5,26.5,39.5,52.5,65.5,78.5,91.5,104.5,117.5,130.5,143.5,156.5,169.5,182.5,195.5,208.5,221.5,234.5,247.5],"labelExpr":"floor(datum.value)","domain":false,"titlePadding":6}},"y2":{"field":"a2"},"color":{"field":"v","type":"quantitative"}}}]},{"title":{"text":"(d)","offset":-2},"width":361,"height":361,"view":{"stroke":null},"data":{"values":[
{"a":0,"b":0,"v":6},{"a":0,"b":8,"v":3},{"a":0,"b":16,"v":2},{"a":0,"b":24,"v":0.5},{"a":0,"b":32,"v":1.5},{"a":0,"b":40,"v":1.5},{"a":0,"b":48,"v":1},{"a":0,"b":56,"v":0.8},{"a":0,"b":64,"v":0.8},{"a":0,"b":72,"v":1.5},{"a":0,"b":80,"v":1.5},{"a":0,"b":88,"v":2},{"a":0,"b":96,"v":1},{"a":0,"b":104,"v":0.8},{"a":0,"b":112,"v":0.5},{"a":0,"b":120,"v":0.5},{"a":0,"b":128,"v":0.4},{"a":0,"b":136,"v":0.4},{"a":0,"b":144,"v":0.4},{"a":0,"b":152,"v":0.8},{"a":0,"b":160,"v":0.6},{"a":0,"b":168,"v":0},{"a":0,"b":176,"v":0.3},{"a":0,"b":184,"v":0.4},{"a":0,"b":192,"v":0.5},{"a":0,"b":200,"v":0.5},{"a":0,"b":208,"v":0.6},{"a":0,"b":216,"v":0.4},{"a":0,"b":224,"v":0.3},{"a":0,"b":232,"v":0.4},{"a":0,"b":240,"v":0.3},{"a":0,"b":248,"v":0.3},
{"a":8,"b":8,"v":5},{"a":8,"b":16,"v":3.5},{"a":8,"b":24,"v":0.5},{"a":8,"b":32,"v":2.5},{"a":8,"b":40,"v":2.5},{"a":8,"b":48,"v":1.5},{"a":8,"b":56,"v":1.2},{"a":8,"b":64,"v":0.8},{"a":8,"b":72,"v":1.5},{"a":8,"b":80,"v":1.5},{"a":8,"b":88,"v":1.5},{"a":8,"b":96,"v":0.8},{"a":8,"b":104,"v":0.7},{"a":8,"b":112,"v":0.6},{"a":8,"b":120,"v":0.7},{"a":8,"b":128,"v":0.8},{"a":8,"b":136,"v":0.8},{"a":8,"b":144,"v":0.6},{"a":8,"b":152,"v":0.5},{"a":8,"b":160,"v":0.5},{"a":8,"b":168,"v":0},{"a":8,"b":176,"v":0.6},{"a":8,"b":184,"v":0.7},{"a":8,"b":192,"v":0.6},{"a":8,"b":200,"v":0.5},{"a":8,"b":208,"v":0.5},{"a":8,"b":216,"v":0.5},{"a":8,"b":224,"v":0.5},{"a":8,"b":232,"v":0.5},{"a":8,"b":240,"v":0.8},{"a":8,"b":248,"v":0.7},
{"a":16,"b":16,"v":5.5},{"a":16,"b":24,"v":0.8},{"a":16,"b":32,"v":2},{"a":16,"b":40,"v":2},{"a":16,"b":48,"v":1.8},{"a":16,"b":56,"v":2},{"a":16,"b":64,"v":1.5},{"a":16,"b":72,"v":2.5},{"a":16,"b":80,"v":2},{"a":16,"b":88,"v":1.5},{"a":16,"b":96,"v":1},{"a":16,"b":104,"v":0.8},{"a":16,"b":112,"v":1},{"a":16,"b":120,"v":1.5},{"a":16,"b":128,"v":2.2},{"a":16,"b":136,"v":2.2},{"a":16,"b":144,"v":1.2},{"a":16,"b":152,"v":1.2},{"a":16,"b":160,"v":0.6},{"a":16,"b":168,"v":0},{"a":16,"b":176,"v":1.5},{"a":16,"b":184,"v":1},{"a":16,"b":192,"v":0.8},{"a":16,"b":200,"v":0.8},{"a":16,"b":208,"v":0.6},{"a":16,"b":216,"v":0.8},{"a":16,"b":224,"v":1},{"a":16,"b":232,"v":0.8},{"a":16,"b":240,"v":1.5},{"a":16,"b":248,"v":1.2},
{"a":24,"b":24,"v":4},{"a":24,"b":32,"v":0.8},{"a":24,"b":40,"v":0.6},{"a":24,"b":48,"v":0.8},{"a":24,"b":56,"v":0.8},{"a":24,"b":64,"v":0.6},{"a":24,"b":72,"v":0.6},{"a":24,"b":80,"v":0.5},{"a":24,"b":88,"v":0.5},{"a":24,"b":96,"v":0.4},{"a":24,"b":104,"v":0.6},{"a":24,"b":112,"v":0.5},{"a":24,"b":120,"v":0.5},{"a":24,"b":128,"v":0.5},{"a":24,"b":136,"v":0.5},{"a":24,"b":144,"v":0.5},{"a":24,"b":152,"v":0.4},{"a":24,"b":160,"v":0.4},{"a":24,"b":168,"v":0},{"a":24,"b":176,"v":0.6},{"a":24,"b":184,"v":0.5},{"a":24,"b":192,"v":0.4},{"a":24,"b":200,"v":0.4},{"a":24,"b":208,"v":0.4},{"a":24,"b":216,"v":0.4},{"a":24,"b":224,"v":0.3},{"a":24,"b":232,"v":0.4},{"a":24,"b":240,"v":0.4},{"a":24,"b":248,"v":0.4},
{"a":32,"b":32,"v":5.5},{"a":32,"b":40,"v":5},{"a":32,"b":48,"v":2},{"a":32,"b":56,"v":1.5},{"a":32,"b":64,"v":1.5},{"a":32,"b":72,"v":1},{"a":32,"b":80,"v":1.5},{"a":32,"b":88,"v":1.5},{"a":32,"b":96,"v":1.5},{"a":32,"b":104,"v":0.7},{"a":32,"b":112,"v":0.5},{"a":32,"b":120,"v":0.4},{"a":32,"b":128,"v":0.8},{"a":32,"b":136,"v":1.2},{"a":32,"b":144,"v":1.2},{"a":32,"b":152,"v":0.8},{"a":32,"b":160,"v":0.5},{"a":32,"b":168,"v":0},{"a":32,"b":176,"v":1.5},{"a":32,"b":184,"v":1.5},{"a":32,"b":192,"v":1.5},{"a":32,"b":200,"v":1.2},{"a":32,"b":208,"v":0.8},{"a":32,"b":216,"v":0.6},{"a":32,"b":224,"v":0.5},{"a":32,"b":232,"v":0.5},{"a":32,"b":240,"v":1.5},{"a":32,"b":248,"v":1.5},
{"a":40,"b":40,"v":5},{"a":40,"b":48,"v":3},{"a":40,"b":56,"v":2},{"a":40,"b":64,"v":2},{"a":40,"b":72,"v":1.5},{"a":40,"b":80,"v":1.5},{"a":40,"b":88,"v":2},{"a":40,"b":96,"v":1.5},{"a":40,"b":104,"v":0.7},{"a":40,"b":112,"v":0.5},{"a":40,"b":120,"v":0.5},{"a":40,"b":128,"v":0.7},{"a":40,"b":136,"v":1.2},{"a":40,"b":144,"v":1.2},{"a":40,"b":152,"v":0.8},{"a":40,"b":160,"v":0.5},{"a":40,"b":168,"v":0},{"a":40,"b":176,"v":1.2},{"a":40,"b":184,"v":1.5},{"a":40,"b":192,"v":1.5},{"a":40,"b":200,"v":1.5},{"a":40,"b":208,"v":1},{"a":40,"b":216,"v":0.8},{"a":40,"b":224,"v":0.6},{"a":40,"b":232,"v":0.6},{"a":40,"b":240,"v":1.5},{"a":40,"b":248,"v":1.5},
{"a":48,"b":48,"v":5},{"a":48,"b":56,"v":3},{"a":48,"b":64,"v":1.5},{"a":48,"b":72,"v":1.5},{"a":48,"b":80,"v":1.8},{"a":48,"b":88,"v":1.5},{"a":48,"b":96,"v":1.5},{"a":48,"b":104,"v":0.7},{"a":48,"b":112,"v":0.6},{"a":48,"b":120,"v":0.6},{"a":48,"b":128,"v":1},{"a":48,"b":136,"v":1},{"a":48,"b":144,"v":1},{"a":48,"b":152,"v":1.2},{"a":48,"b":160,"v":0.5},{"a":48,"b":168,"v":0},{"a":48,"b":176,"v":0.8},{"a":48,"b":184,"v":1.5},{"a":48,"b":192,"v":1.8},{"a":48,"b":200,"v":1.8},{"a":48,"b":208,"v":1.5},{"a":48,"b":216,"v":1},{"a":48,"b":224,"v":0.8},{"a":48,"b":232,"v":0.6},{"a":48,"b":240,"v":2},{"a":48,"b":248,"v":2},
{"a":56,"b":56,"v":5},{"a":56,"b":64,"v":2},{"a":56,"b":72,"v":1.5},{"a":56,"b":80,"v":1.8},{"a":56,"b":88,"v":1.5},{"a":56,"b":96,"v":1.2},{"a":56,"b":104,"v":0.6},{"a":56,"b":112,"v":0.6},{"a":56,"b":120,"v":0.5},{"a":56,"b":128,"v":1.5},{"a":56,"b":136,"v":1.2},{"a":56,"b":144,"v":1.2},{"a":56,"b":152,"v":1.2},{"a":56,"b":160,"v":0.5},{"a":56,"b":168,"v":0},{"a":56,"b":176,"v":0.8},{"a":56,"b":184,"v":1},{"a":56,"b":192,"v":1},{"a":56,"b":200,"v":1.2},{"a":56,"b":208,"v":1.2},{"a":56,"b":216,"v":0.8},{"a":56,"b":224,"v":0.8},{"a":56,"b":232,"v":0.6},{"a":56,"b":240,"v":1.5},{"a":56,"b":248,"v":1.5},
{"a":64,"b":64,"v":7},{"a":64,"b":72,"v":6.5},{"a":64,"b":80,"v":1.5},{"a":64,"b":88,"v":1.2},{"a":64,"b":96,"v":1},{"a":64,"b":104,"v":0.6},{"a":64,"b":112,"v":0.6},{"a":64,"b":120,"v":0.6},{"a":64,"b":128,"v":0.8},{"a":64,"b":136,"v":0.6},{"a":64,"b":144,"v":0.8},{"a":64,"b":152,"v":1},{"a":64,"b":160,"v":0.4},{"a":64,"b":168,"v":0},{"a":64,"b":176,"v":0.8},{"a":64,"b":184,"v":0.8},{"a":64,"b":192,"v":0.6},{"a":64,"b":200,"v":0.8},{"a":64,"b":208,"v":1},{"a":64,"b":216,"v":0.8},{"a":64,"b":224,"v":1},{"a":64,"b":232,"v":0.8},{"a":64,"b":240,"v":0.3},{"a":64,"b":248,"v":0.3},
{"a":72,"b":72,"v":7},{"a":72,"b":80,"v":3.5},{"a":72,"b":88,"v":2},{"a":72,"b":96,"v":1.2},{"a":72,"b":104,"v":0.8},{"a":72,"b":112,"v":1},{"a":72,"b":120,"v":1},{"a":72,"b":128,"v":1},{"a":72,"b":136,"v":1.5},{"a":72,"b":144,"v":1.5},{"a":72,"b":152,"v":1.5},{"a":72,"b":160,"v":0.6},{"a":72,"b":168,"v":0},{"a":72,"b":176,"v":0.8},{"a":72,"b":184,"v":1},{"a":72,"b":192,"v":0.8},{"a":72,"b":200,"v":1.2},{"a":72,"b":208,"v":1},{"a":72,"b":216,"v":1},{"a":72,"b":224,"v":1.2},{"a":72,"b":232,"v":1},{"a":72,"b":240,"v":0.4},{"a":72,"b":248,"v":0.4},
{"a":80,"b":80,"v":6},{"a":80,"b":88,"v":4},{"a":80,"b":96,"v":2.5},{"a":80,"b":104,"v":1},{"a":80,"b":112,"v":1.5},{"a":80,"b":120,"v":1},{"a":80,"b":128,"v":1.5},{"a":80,"b":136,"v":1.5},{"a":80,"b":144,"v":1.5},{"a":80,"b":152,"v":2},{"a":80,"b":160,"v":0.6},{"a":80,"b":168,"v":0},{"a":80,"b":176,"v":0.8},{"a":80,"b":184,"v":1},{"a":80,"b":192,"v":0.8},{"a":80,"b":200,"v":0.8},{"a":80,"b":208,"v":0.8},{"a":80,"b":216,"v":0.8},{"a":80,"b":224,"v":0.8},{"a":80,"b":232,"v":0.8},{"a":80,"b":240,"v":1.5},{"a":80,"b":248,"v":1.5},
{"a":88,"b":88,"v":7},{"a":88,"b":96,"v":4},{"a":88,"b":104,"v":1.2},{"a":88,"b":112,"v":1.5},{"a":88,"b":120,"v":1},{"a":88,"b":128,"v":1.2},{"a":88,"b":136,"v":1.2},{"a":88,"b":144,"v":1.5},{"a":88,"b":152,"v":1.8},{"a":88,"b":160,"v":0.4},{"a":88,"b":168,"v":0},{"a":88,"b":176,"v":0.9},{"a":88,"b":184,"v":1},{"a":88,"b":192,"v":1},{"a":88,"b":200,"v":1.2},{"a":88,"b":208,"v":1},{"a":88,"b":216,"v":1},{"a":88,"b":224,"v":1},{"a":88,"b":232,"v":1},{"a":88,"b":240,"v":2},{"a":88,"b":248,"v":2},
{"a":96,"b":96,"v":6},{"a":96,"b":104,"v":1.5},{"a":96,"b":112,"v":1.2},{"a":96,"b":120,"v":1.5},{"a":96,"b":128,"v":1},{"a":96,"b":136,"v":1},{"a":96,"b":144,"v":1},{"a":96,"b":152,"v":1},{"a":96,"b":160,"v":0.4},{"a":96,"b":168,"v":0},{"a":96,"b":176,"v":1},{"a":96,"b":184,"v":1.5},{"a":96,"b":192,"v":1.5},{"a":96,"b":200,"v":2},{"a":96,"b":208,"v":2.5},{"a":96,"b":216,"v":1.5},{"a":96,"b":224,"v":1},{"a":96,"b":232,"v":1.5},{"a":96,"b":240,"v":2.5},{"a":96,"b":248,"v":2.5},
{"a":104,"b":104,"v":7},{"a":104,"b":112,"v":5.5},{"a":104,"b":120,"v":4},{"a":104,"b":128,"v":2},{"a":104,"b":136,"v":1.5},{"a":104,"b":144,"v":1.5},{"a":104,"b":152,"v":1.2},{"a":104,"b":160,"v":0.5},{"a":104,"b":168,"v":0},{"a":104,"b":176,"v":0.8},{"a":104,"b":184,"v":1.2},{"a":104,"b":192,"v":1.2},{"a":104,"b":200,"v":1},{"a":104,"b":208,"v":1},{"a":104,"b":216,"v":1},{"a":104,"b":224,"v":0.8},{"a":104,"b":232,"v":0.8},{"a":104,"b":240,"v":1},{"a":104,"b":248,"v":1},
{"a":112,"b":112,"v":6},{"a":112,"b":120,"v":5},{"a":112,"b":128,"v":2.5},{"a":112,"b":136,"v":2},{"a":112,"b":144,"v":1.5},{"a":112,"b":152,"v":1.5},{"a":112,"b":160,"v":0.6},{"a":112,"b":168,"v":0},{"a":112,"b":176,"v":0.9},{"a":112,"b":184,"v":1},{"a":112,"b":192,"v":1},{"a":112,"b":200,"v":0.8},{"a":112,"b":208,"v":0.8},{"a":112,"b":216,"v":0.6},{"a":112,"b":224,"v":0.6},{"a":112,"b":232,"v":0.6},{"a":112,"b":240,"v":0.7},{"a":112,"b":248,"v":0.8},
{"a":120,"b":120,"v":6},{"a":120,"b":128,"v":4},{"a":120,"b":136,"v":3},{"a":120,"b":144,"v":1.5},{"a":120,"b":152,"v":1.5},{"a":120,"b":160,"v":0.5},{"a":120,"b":168,"v":0},{"a":120,"b":176,"v":1},{"a":120,"b":184,"v":0.8},{"a":120,"b":192,"v":0.8},{"a":120,"b":200,"v":0.8},{"a":120,"b":208,"v":0.8},{"a":120,"b":216,"v":0.6},{"a":120,"b":224,"v":0.6},{"a":120,"b":232,"v":0.6},{"a":120,"b":240,"v":0.8},{"a":120,"b":248,"v":0.8},
{"a":128,"b":128,"v":5},{"a":128,"b":136,"v":4},{"a":128,"b":144,"v":2},{"a":128,"b":152,"v":1.5},{"a":128,"b":160,"v":0.5},{"a":128,"b":168,"v":0},{"a":128,"b":176,"v":1.5},{"a":128,"b":184,"v":0.4},{"a":128,"b":192,"v":0.4},{"a":128,"b":200,"v":0.4},{"a":128,"b":208,"v":0.4},{"a":128,"b":216,"v":0.4},{"a":128,"b":224,"v":0.8},{"a":128,"b":232,"v":0.6},{"a":128,"b":240,"v":0.5},{"a":128,"b":248,"v":0.5},
{"a":136,"b":136,"v":5},{"a":136,"b":144,"v":2.5},{"a":136,"b":152,"v":2},{"a":136,"b":160,"v":0.5},{"a":136,"b":168,"v":0},{"a":136,"b":176,"v":1.5},{"a":136,"b":184,"v":0.8},{"a":136,"b":192,"v":0.8},{"a":136,"b":200,"v":0.8},{"a":136,"b":208,"v":0.6},{"a":136,"b":216,"v":0.6},{"a":136,"b":224,"v":0.8},{"a":136,"b":232,"v":0.6},{"a":136,"b":240,"v":0.8},{"a":136,"b":248,"v":0.8},
{"a":144,"b":144,"v":5},{"a":144,"b":152,"v":3.5},{"a":144,"b":160,"v":0.6},{"a":144,"b":168,"v":0},{"a":144,"b":176,"v":2},{"a":144,"b":184,"v":2},{"a":144,"b":192,"v":1.5},{"a":144,"b":200,"v":1.2},{"a":144,"b":208,"v":1},{"a":144,"b":216,"v":1},{"a":144,"b":224,"v":1.5},{"a":144,"b":232,"v":0.8},{"a":144,"b":240,"v":1.5},{"a":144,"b":248,"v":1.2},
{"a":152,"b":152,"v":5},{"a":152,"b":160,"v":1},{"a":152,"b":168,"v":0},{"a":152,"b":176,"v":2.5},{"a":152,"b":184,"v":2.5},{"a":152,"b":192,"v":2},{"a":152,"b":200,"v":1.5},{"a":152,"b":208,"v":1.5},{"a":152,"b":216,"v":1.5},{"a":152,"b":224,"v":1.8},{"a":152,"b":232,"v":1},{"a":152,"b":240,"v":1.8},{"a":152,"b":248,"v":1.2},
{"a":160,"b":160,"v":2},{"a":160,"b":168,"v":0},{"a":160,"b":176,"v":0.5},{"a":160,"b":184,"v":0.6},{"a":160,"b":192,"v":0.6},{"a":160,"b":200,"v":0.4},{"a":160,"b":208,"v":0.4},{"a":160,"b":216,"v":0.4},{"a":160,"b":224,"v":0.5},{"a":160,"b":232,"v":0.4},{"a":160,"b":240,"v":0.4},{"a":160,"b":248,"v":0.4},
{"a":168,"b":168,"v":0},{"a":168,"b":176,"v":0},{"a":168,"b":184,"v":0},{"a":168,"b":192,"v":0},{"a":168,"b":200,"v":0},{"a":168,"b":208,"v":0},{"a":168,"b":216,"v":0},{"a":168,"b":224,"v":0},{"a":168,"b":232,"v":0},{"a":168,"b":240,"v":0},{"a":168,"b":248,"v":0},
{"a":176,"b":176,"v":6},{"a":176,"b":184,"v":3},{"a":176,"b":192,"v":2},{"a":176,"b":200,"v":1.2},{"a":176,"b":208,"v":1.2},{"a":176,"b":216,"v":1},{"a":176,"b":224,"v":1},{"a":176,"b":232,"v":0.7},{"a":176,"b":240,"v":1.8},{"a":176,"b":248,"v":1.2},
{"a":184,"b":184,"v":6},{"a":184,"b":192,"v":3.5},{"a":184,"b":200,"v":2},{"a":184,"b":208,"v":1.8},{"a":184,"b":216,"v":1.2},{"a":184,"b":224,"v":1.2},{"a":184,"b":232,"v":0.8},{"a":184,"b":240,"v":1.5},{"a":184,"b":248,"v":1.2},
{"a":192,"b":192,"v":6},{"a":192,"b":200,"v":3},{"a":192,"b":208,"v":2.5},{"a":192,"b":216,"v":1.5},{"a":192,"b":224,"v":1.5},{"a":192,"b":232,"v":0.8},{"a":192,"b":240,"v":1.2},{"a":192,"b":248,"v":1.2},
{"a":200,"b":200,"v":5},{"a":200,"b":208,"v":4},{"a":200,"b":216,"v":3},{"a":200,"b":224,"v":2},{"a":200,"b":232,"v":1.2},{"a":200,"b":240,"v":1},{"a":200,"b":248,"v":1},
{"a":208,"b":208,"v":6},{"a":208,"b":216,"v":5},{"a":208,"b":224,"v":3},{"a":208,"b":232,"v":1.5},{"a":208,"b":240,"v":1},{"a":208,"b":248,"v":1.2},
{"a":216,"b":216,"v":7},{"a":216,"b":224,"v":4.5},{"a":216,"b":232,"v":1.2},{"a":216,"b":240,"v":1},{"a":216,"b":248,"v":1.5},
{"a":224,"b":224,"v":6},{"a":224,"b":232,"v":1.5},{"a":224,"b":240,"v":1},{"a":224,"b":248,"v":1.2},
{"a":232,"b":232,"v":5},{"a":232,"b":240,"v":1.5},{"a":232,"b":248,"v":1.2},
{"a":240,"b":240,"v":8},{"a":240,"b":248,"v":6},
{"a":248,"b":248,"v":8.5}
]},"transform":[{"calculate":"datum.a+8.6","as":"a2"},{"calculate":"datum.b+8.6","as":"b2"}],"layer":[{"mark":{"type":"rect","clip":true},"encoding":{"x":{"field":"a","type":"quantitative","scale":{"domain":[0,256],"nice":false},"title":"Codebook Vector Index","axis":{"values":[0.5,11.5,22.5,33.5,44.5,55.5,66.5,77.5,88.5,99.5,110.5,121.5,132.5,143.5,154.5,165.5,176.5,187.5,198.5,209.5,220.5,231.5,242.5,253.5],"labelExpr":"floor(datum.value)","labelAngle":-90,"domain":false,"labelBaseline":"middle","labelAlign":"right","titlePadding":4}},"x2":{"field":"a2"},"y":{"field":"b","type":"quantitative","scale":{"domain":[0,256],"nice":false,"reverse":true},"title":"Codebook Vector Index","axis":{"values":[0.5,13.5,26.5,39.5,52.5,65.5,78.5,91.5,104.5,117.5,130.5,143.5,156.5,169.5,182.5,195.5,208.5,221.5,234.5,247.5],"labelExpr":"floor(datum.value)","domain":false,"titlePadding":6}},"y2":{"field":"b2"},"color":{"field":"v","type":"quantitative","scale":{"domain":[0,1.83,3.66,5.49,7.31,9.14,10.97,12.8],"range":["#03051a","#35193e","#701f57","#ad1759","#e13342","#f37651","#f6b48f","#faebdd"]},"legend":{"title":null,"orient":"right","offset":29,"gradientLength":361,"gradientThickness":18,"values":[0,2,4,6,8,10,12],"labelOffset":8}}}},{"mark":{"type":"rect","clip":true},"encoding":{"x":{"field":"b","type":"quantitative","title":"Codebook Vector Index","axis":{"values":[0.5,11.5,22.5,33.5,44.5,55.5,66.5,77.5,88.5,99.5,110.5,121.5,132.5,143.5,154.5,165.5,176.5,187.5,198.5,209.5,220.5,231.5,242.5,253.5],"labelExpr":"floor(datum.value)","labelAngle":-90,"domain":false,"labelBaseline":"middle","labelAlign":"right","titlePadding":4}},"x2":{"field":"b2"},"y":{"field":"a","type":"quantitative","title":"Codebook Vector Index","axis":{"values":[0.5,13.5,26.5,39.5,52.5,65.5,78.5,91.5,104.5,117.5,130.5,143.5,156.5,169.5,182.5,195.5,208.5,221.5,234.5,247.5],"labelExpr":"floor(datum.value)","domain":false,"titlePadding":6}},"y2":{"field":"a2"},"color":{"field":"v","type":"quantitative"}}}]}],"resolve":{"scale":{"color":"independent"}}}]}]}
